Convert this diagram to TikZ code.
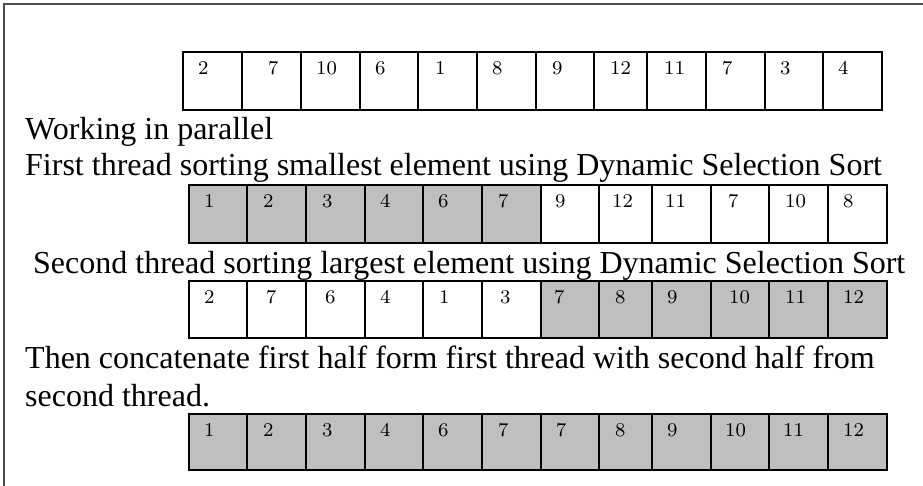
\documentclass[tikz,border=0pt]{standalone}
\usepackage{fontspec}
\newfontfamily\textserif{Liberation Serif}
\newfontfamily\digitfont{lmroman8-regular.otf}
\begin{document}
\begin{tikzpicture}[x=1pt,y=-1pt,
  cellbox/.style={draw=black, line width=1.8pt, rectangle, inner sep=0pt, outer sep=0pt, anchor=north west},
  digit/.style={anchor=base west, inner sep=0pt, font=\digitfont\fontsize{19.5}{24}\selectfont},
  caption/.style={anchor=base west, inner sep=0pt, font=\textserif\fontsize{32}{38}\selectfont},
  frameline/.style={draw=black!70, line width=1.4pt}]
\useasboundingbox (0,0) rectangle (923,485);

% outer frame (left and top edges)
\coordinate (fbl) at (4,486);
\coordinate (ftl) at (4,4);
\coordinate (ftr) at (924,4);
\draw[frameline] (fbl) -- (ftl) -- (ftr);

% one row of cells: #1 name, #2 top, #3 height, #4 list x/width/value/fill/dx
\newcommand\cellrow[4]{%
  \foreach \x/\w/\v/\f/\d [count=\i] in {#4} {
    \node[cellbox, fill=\f, minimum width=\w pt, minimum height=#3 pt] (#1c\i) at (\x,#2) {};
    \node[digit] (#1v\i) at ([xshift=\d pt, yshift=-22pt]#1c\i.north west) {\v};
  }}

% input array
\cellrow{a}{52}{58}{183/59/2/white/15, 242/59/7/white/26, 301/59/10/white/15, 360/58/6/white/15,
  418/59/1/white/17, 477/59/8/white/15, 536/58/9/white/16, 594/53/12/white/16,
  647/59/11/white/17, 706/59/7/white/16, 765/58/3/white/15, 823/59/4/white/15}

% first thread: smallest elements moved to the front
\cellrow{b}{185}{58}{189/58/1/gray!50/15, 247/59/2/gray!50/16, 306/59/3/gray!50/16, 365/58/4/gray!50/15,
  423/59/6/gray!50/15, 482/59/7/gray!50/16, 541/58/9/white/14, 599/53/12/white/13,
  652/59/11/white/13, 711/58/7/white/17, 769/59/10/white/16, 828/59/8/white/15}

% second thread: largest elements moved to the back
\cellrow{c}{281}{57}{189/58/2/white/15, 247/59/7/white/19, 306/59/6/white/19, 365/58/4/white/15,
  423/59/1/white/16, 482/59/3/white/18, 541/58/7/gray!50/13, 599/53/8/gray!50/16,
  652/59/9/gray!50/15, 711/58/10/gray!50/18, 769/59/11/gray!50/16, 828/59/12/gray!50/15}

% concatenated result
\cellrow{d}{414}{56}{189/58/1/gray!50/15, 247/59/2/gray!50/16, 306/59/3/gray!50/16, 365/58/4/gray!50/15,
  423/59/6/gray!50/15, 482/59/7/gray!50/16, 541/58/7/gray!50/15, 599/53/8/gray!50/16,
  652/59/9/gray!50/15, 711/58/10/gray!50/14, 769/59/11/gray!50/14, 828/59/12/gray!50/15}

% explanatory text
\node[caption] (t1) at (25,139) {Working in parallel};
\node[caption] (t2) at (25,175) {First thread sorting smallest element using Dynamic Selection Sort};
\node[caption] (t3) at (33,273) {Second thread sorting largest element using Dynamic Selection Sort};
\node[caption] (t4) at (25,368) {Then concatenate first half form first thread with second half from};
\node[caption] (t5) at (25,406) {second thread.};
\end{tikzpicture}
\end{document}
